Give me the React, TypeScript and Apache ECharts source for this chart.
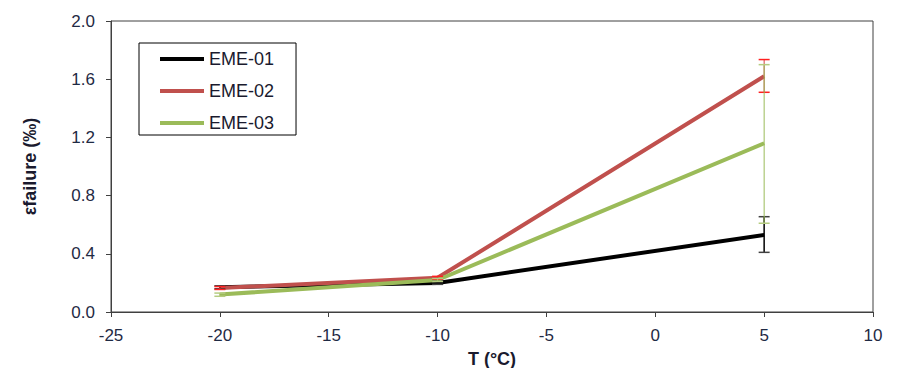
import React, { useEffect, useRef } from "react";
import * as echarts from "echarts";

const temps = [-20, -10, 5];
const seriesNames = ["EME-01", "EME-02", "EME-03"];
const eme01 = [0.17, 0.2, 0.53];
const eme02 = [0.165, 0.235, 1.62];
const eme03 = [0.12, 0.22, 1.16];
const eme01Low = [0.16, 0.19, 0.41];
const eme01High = [0.18, 0.21, 0.655];
const eme02Low = [0.155, 0.225, 1.51];
const eme02High = [0.175, 0.245, 1.735];
const eme03Low = [0.108, 0.21, 0.61];
const eme03High = [0.13, 0.23, 1.7];
const xTicks = { min: -25, max: 10, interval: 5 };
const yTicks = { min: 0, max: 2, interval: 0.4 };

const lineColors = ["#000000", "#C0504D", "#9BBB59"];
const capColors = ["#404040", "#FF2020", "#B5CC80"];
const stemColors = ["#000000", "#D04040", "#9BBB59"];
const stemWidths = [1.5, 1, 1];

export default function App() {
  const ref = useRef<HTMLDivElement>(null);
  useEffect(() => {
    if (!ref.current) return;
    const chart = echarts.init(ref.current, undefined, { renderer: "svg" });
    const values = [eme01, eme02, eme03];
    const lows = [eme01Low, eme02Low, eme03Low];
    const highs = [eme01High, eme02High, eme03High];
    const lineSeries = seriesNames.map((name, i) => ({
      name,
      type: "line",
      data: temps.map((t, j) => [t, values[i][j]]),
      showSymbol: false,
      symbol: "none",
      lineStyle: { color: lineColors[i], width: 4 },
      itemStyle: { color: lineColors[i] },
      z: 2,
    }));
    const errSeries = seriesNames.map((name, i) => ({
      name: name + " error",
      type: "custom",
      data: temps.map((t, j) => [t, lows[i][j], highs[i][j]]),
      encode: { x: 0, y: [1, 2] },
      z: 3,
      silent: true,
      renderItem: (params: any, api: any) => {
        const x = api.value(0);
        const lo = api.coord([x, api.value(1)]);
        const hi = api.coord([x, api.value(2)]);
        const w = 5.5;
        return {
          type: "group",
          children: [
            {
              type: "line",
              shape: { x1: lo[0], y1: lo[1], x2: hi[0], y2: hi[1] },
              style: { stroke: stemColors[i], lineWidth: stemWidths[i] },
            },
            {
              type: "line",
              shape: { x1: lo[0] - w, y1: lo[1], x2: lo[0] + w, y2: lo[1] },
              style: { stroke: capColors[i], lineWidth: 1.5 },
            },
            {
              type: "line",
              shape: { x1: hi[0] - w, y1: hi[1], x2: hi[0] + w, y2: hi[1] },
              style: { stroke: capColors[i], lineWidth: 1.5 },
            },
          ],
        };
      },
    }));
    const labelColor = "#1f2a44";
    chart.setOption({
      animation: false,
      backgroundColor: "#ffffff",
      textStyle: { fontFamily: "Liberation Sans" },
      grid: {
        left: 111,
        right: 27,
        top: 21,
        bottom: 64,
        show: true,
        borderColor: "#404040",
        borderWidth: 1,
      },
      legend: {
        data: seriesNames,
        orient: "vertical",
        left: 139,
        top: 43,
        icon: "rect",
        itemWidth: 44,
        itemHeight: 4,
        itemGap: 14,
        padding: [7, 22, 3, 21],
        borderColor: "#000000",
        borderWidth: 1,
        textStyle: { fontSize: 18, color: "#1a1a2e", fontFamily: "Liberation Sans" },
      },
      xAxis: {
        type: "value",
        min: xTicks.min,
        max: xTicks.max,
        interval: xTicks.interval,
        name: "T (°C)",
        nameLocation: "middle",
        nameGap: 38,
        nameTextStyle: { fontSize: 18, fontWeight: "bold", color: "#1a1a2e" },
        axisLine: { onZero: false, lineStyle: { color: "#404040", width: 1 } },
        axisTick: { show: true, inside: false, length: 5, lineStyle: { color: "#404040" } },
        axisLabel: { fontSize: 17, color: labelColor, margin: 15 },
        splitLine: { show: false },
      },
      yAxis: {
        type: "value",
        min: yTicks.min,
        max: yTicks.max,
        interval: yTicks.interval,
        name: "εfailure (‰)",
        nameLocation: "middle",
        nameGap: 72,
        nameTextStyle: { fontSize: 18, fontWeight: "bold", color: "#1a1a2e" },
        axisLine: { show: true, onZero: false, lineStyle: { color: "#404040", width: 1 } },
        axisTick: { show: true, inside: false, length: 5, lineStyle: { color: "#404040" } },
        axisLabel: {
          fontSize: 17,
          color: labelColor,
          margin: 16,
          formatter: (v: number) => v.toFixed(1),
        },
        splitLine: { show: false },
      },
      series: [...lineSeries, ...errSeries],
    });
    return () => chart.dispose();
  }, []);
  return <div ref={ref} style={{ width: 900, height: 376, margin: -8 }} />;
}
